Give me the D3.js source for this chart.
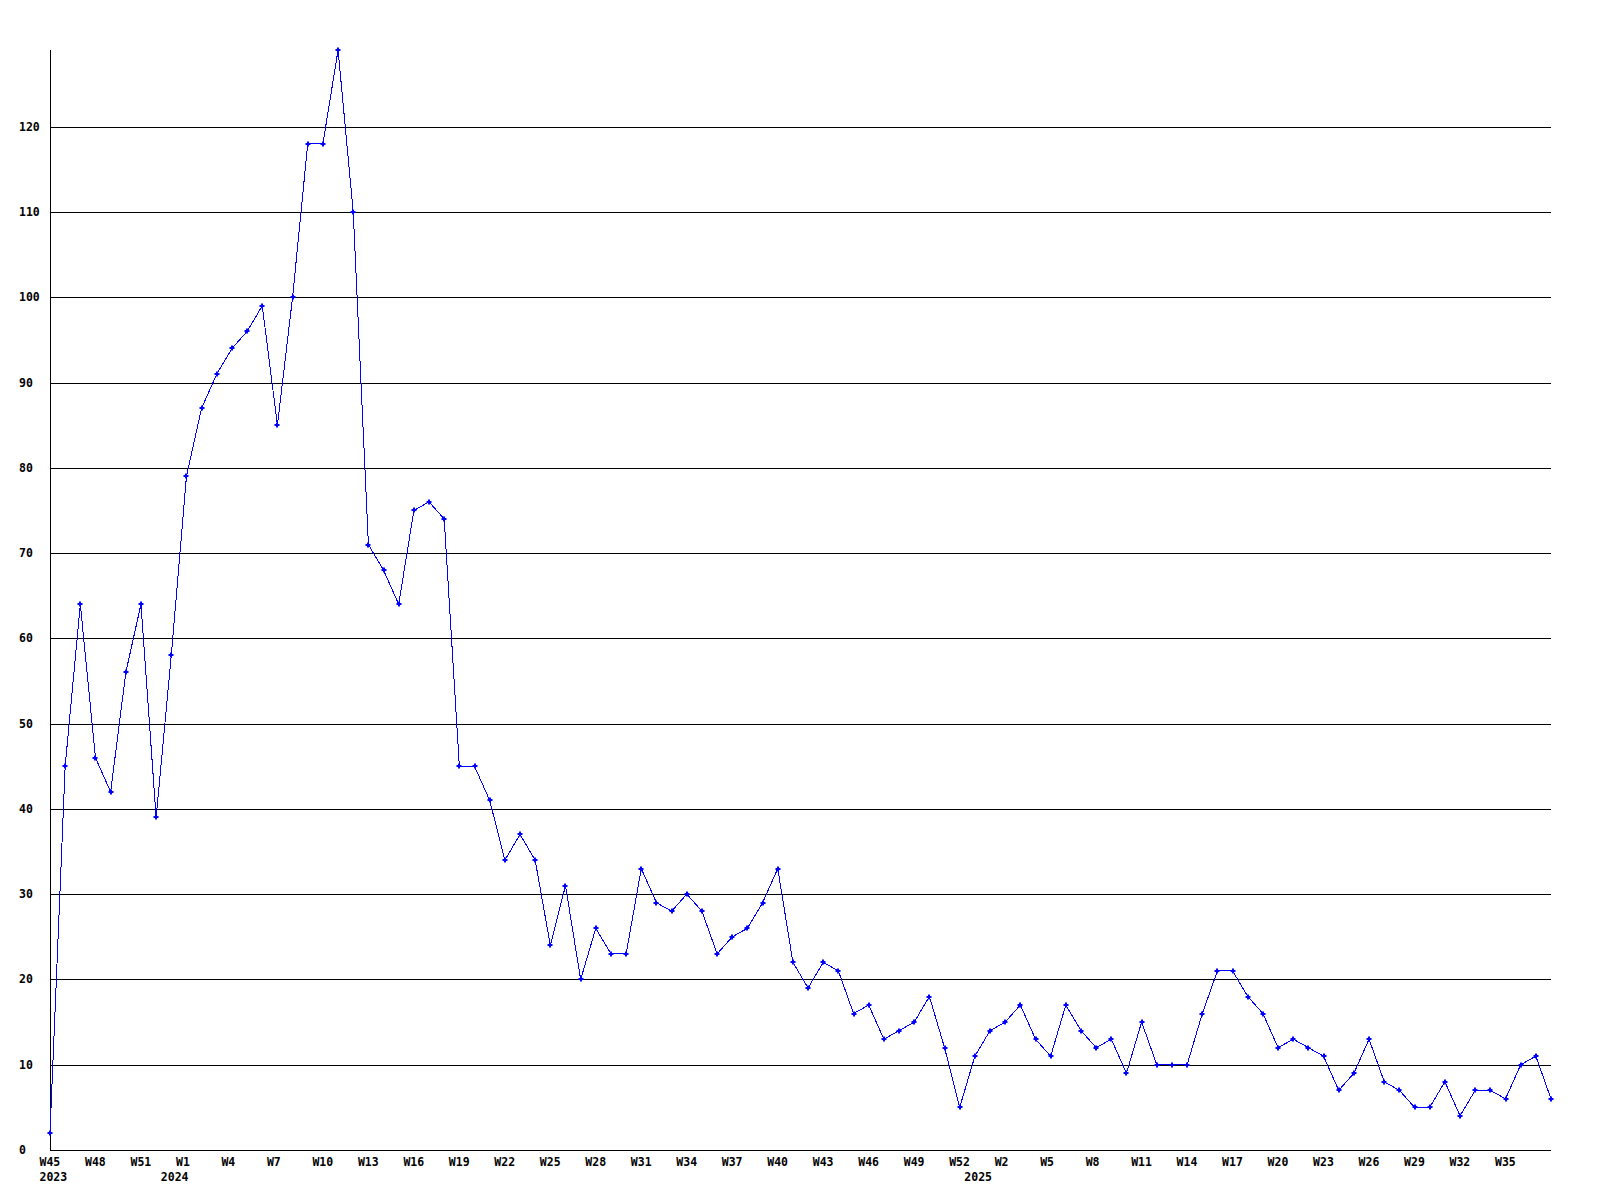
<!DOCTYPE html>
<html>
<head>
<meta charset="utf-8">
<script src="https://cdn.jsdelivr.net/npm/d3@7"></script>
<style>
  body { margin: 0; background: #fff; }
  svg text { font-family: "DejaVu Sans Mono", monospace; font-weight: bold; font-size: 11.5px; fill: #000; }
</style>
</head>
<body>
<svg width="1600" height="1200"></svg>
<script>
const categories = [
  '2023-W45', '2023-W46', '2023-W47', '2023-W48', '2023-W49', '2023-W50', '2023-W51', '2023-W52',
  '2024-W0', '2024-W1', '2024-W2', '2024-W3', '2024-W4', '2024-W5', '2024-W6', '2024-W7', '2024-W8',
  '2024-W9', '2024-W10', '2024-W11', '2024-W12', '2024-W13', '2024-W14', '2024-W15', '2024-W16',
  '2024-W17', '2024-W18', '2024-W19', '2024-W20', '2024-W21', '2024-W22', '2024-W23', '2024-W24',
  '2024-W25', '2024-W26', '2024-W27', '2024-W28', '2024-W29', '2024-W30', '2024-W31', '2024-W32',
  '2024-W33', '2024-W34', '2024-W35', '2024-W36', '2024-W37', '2024-W38', '2024-W39', '2024-W40',
  '2024-W41', '2024-W42', '2024-W43', '2024-W44', '2024-W45', '2024-W46', '2024-W47', '2024-W48',
  '2024-W49', '2024-W50', '2024-W51', '2024-W52',
  '2025-W0', '2025-W1', '2025-W2', '2025-W3', '2025-W4', '2025-W5', '2025-W6', '2025-W7', '2025-W8',
  '2025-W9', '2025-W10', '2025-W11', '2025-W12', '2025-W13', '2025-W14', '2025-W15', '2025-W16',
  '2025-W17', '2025-W18', '2025-W19', '2025-W20', '2025-W21', '2025-W22', '2025-W23', '2025-W24',
  '2025-W25', '2025-W26', '2025-W27', '2025-W28', '2025-W29', '2025-W30', '2025-W31', '2025-W32',
  '2025-W33', '2025-W34', '2025-W35', '2025-W36', '2025-W37', '2025-W38'
];

const values = [
  2, 45, 64, 46, 42, 56, 64, 39, 58, 79,
  87, 91, 94, 96, 99, 85, 100, 118, 118, 129,
  110, 71, 68, 64, 75, 76, 74, 45, 45, 41,
  34, 37, 34, 24, 31, 20, 26, 23, 23, 33,
  29, 28, 30, 28, 23, 25, 26, 29, 33, 22,
  19, 22, 21, 16, 17, 13, 14, 15, 18, 12,
  5, 11, 14, 15, 17, 13, 11, 17, 14, 12,
  13, 9, 15, 10, 10, 10, 16, 21, 21, 18,
  16, 12, 13, 12, 11, 7, 9, 13, 8, 7,
  5, 5, 8, 4, 7, 7, 6, 10, 11, 6
];

const yTicks = [0, 10, 20, 30, 40, 50, 60, 70, 80, 90, 100, 110, 120];

const data = categories.map((c, i) => ({
  year: c.split('-')[0],
  week: c.split('-')[1],
  value: values[i],
}));

const plotLeft = 50, plotRight = 1551, plotTop = 50, plotBottom = 1150;

const x = d3.scalePoint().domain(categories).range([plotLeft, plotRight]);
const y = d3.scaleLinear().domain([0, d3.max(values)]).range([plotBottom, plotTop]);

const svg = d3.select('svg');

// grid lines (no line at 0, the axis sits there)
svg.append('g')
  .selectAll('line')
  .data(yTicks.filter(t => t > 0))
  .enter()
  .append('line')
  .attr('x1', plotLeft)
  .attr('x2', plotRight)
  .attr('y1', d => Math.round(y(d)) + 0.5)
  .attr('y2', d => Math.round(y(d)) + 0.5)
  .style('stroke', '#000')
  .style('shape-rendering', 'crispEdges');

// axes
svg.append('line')
  .attr('x1', plotLeft + 0.5).attr('x2', plotLeft + 0.5)
  .attr('y1', plotTop).attr('y2', plotBottom + 0.5)
  .style('stroke', '#000')
  .style('shape-rendering', 'crispEdges');
svg.append('line')
  .attr('x1', plotLeft).attr('x2', plotRight)
  .attr('y1', plotBottom + 0.5).attr('y2', plotBottom + 0.5)
  .style('stroke', '#000')
  .style('shape-rendering', 'crispEdges');

// y labels
svg.append('g')
  .selectAll('text')
  .data(yTicks)
  .enter()
  .append('text')
  .attr('x', 19)
  .attr('y', d => y(d) + 4)
  .text(d => d);

// x labels, every third week (the last week gets none)
const xLabels = svg.append('g');
xLabels.selectAll('text.week')
  .data(data.filter((_, i) => i % 3 === 0 && i < data.length - 1))
  .enter()
  .append('text')
  .attr('class', 'week')
  .attr('x', d => x(`${d.year}-${d.week}`) - 10.5)
  .attr('y', 1166)
  .text(d => d.week);

xLabels.selectAll('text.year')
  .data(data.filter((d, i) => i === 0 || d.year !== data[i - 1].year))
  .enter()
  .append('text')
  .attr('class', 'year')
  .attr('x', d => x(`${d.year}-${d.week}`) - 10.5)
  .attr('y', 1181)
  .text(d => d.year);

// series
const line = d3.line()
  .x(d => x(`${d.year}-${d.week}`))
  .y(d => y(d.value));

svg.append('path')
  .datum(data)
  .attr('d', line)
  .style('fill', 'none')
  .style('stroke', '#0000ff')
  .style('stroke-width', 1)
  .style('shape-rendering', 'crispEdges');

svg.append('g')
  .selectAll('path')
  .data(data)
  .enter()
  .append('path')
  .attr('transform', d => `translate(${Math.round(x(`${d.year}-${d.week}`))}, ${Math.round(y(d.value))})`)
  .attr('d', 'M-1,-2.5H1V-1H2.5V1H1V2.5H-1V1H-2.5V-1H-1Z')
  .style('fill', '#0000ff');
</script>
</body>
</html>
